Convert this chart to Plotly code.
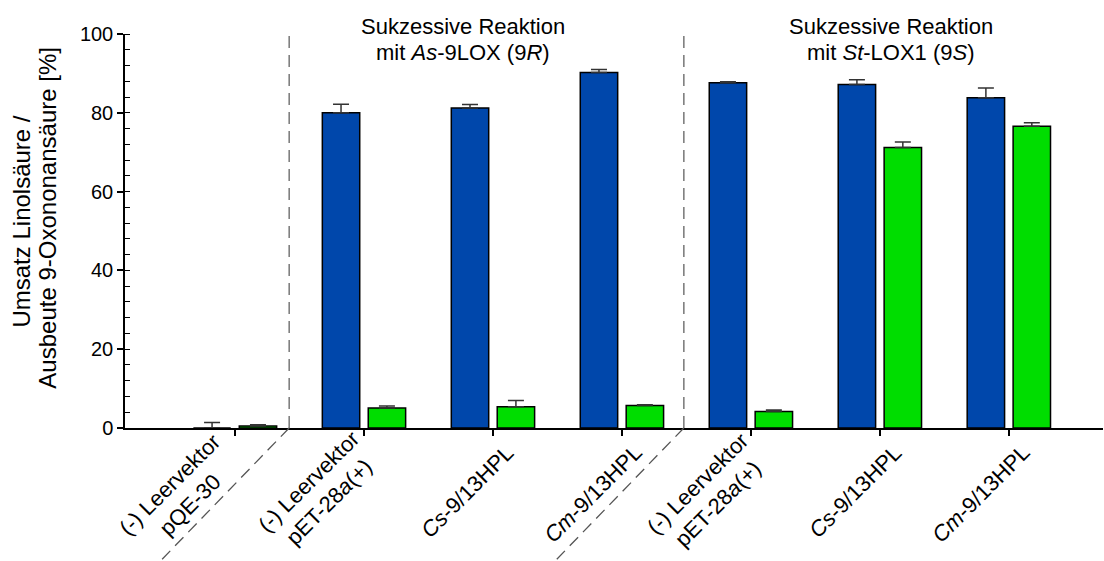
import plotly.graph_objects as go

categories = [
    "(-) Leervektor<br>pQE-30",
    "(-) Leervektor<br>pET-28<i>a</i>(+)",
    "<i>Cs</i>-9/13HPL",
    "<i>Cm</i>-9/13HPL",
    "(-) Leervektor<br>pET-28<i>a</i>(+)",
    "<i>Cs</i>-9/13HPL",
    "<i>Cm</i>-9/13HPL",
]
umsatz = [0.0, 80.0, 81.2, 90.2, 87.6, 87.2, 83.8]
umsatz_err = [1.4, 2.2, 0.9, 0.8, 0.3, 1.2, 2.5]
ausbeute = [0.5, 5.1, 5.4, 5.7, 4.2, 71.2, 76.6]
ausbeute_err = [0.3, 0.5, 1.6, 0.2, 0.4, 1.4, 0.9]
y_ticks = [0, 20, 40, 60, 80, 100]

# pixel offsets of each rotated category label's centre from its tick (styling)
label_dx = [-55, -45, -26, -29, -43, -25, -28]
label_dy = [67, 64, 63, 65, 66, 63, 65]

xpos = list(range(len(categories)))
FONT = "Liberation Sans, Arial, sans-serif"

fig = go.Figure()
fig.add_trace(go.Bar(
    x=xpos, y=umsatz, offset=-0.323, width=0.29,
    marker=dict(color="#0047AB", line=dict(color="black", width=1.5)),
    error_y=dict(type="data", array=umsatz_err, arrayminus=[0] * len(umsatz),
                 symmetric=False, color="#333333", thickness=1.5, width=8),
    name="Umsatz Linolsäure",
))
fig.add_trace(go.Bar(
    x=xpos, y=ausbeute, offset=0.033, width=0.29,
    marker=dict(color="#00DD00", line=dict(color="black", width=1.5)),
    error_y=dict(type="data", array=ausbeute_err, arrayminus=[0] * len(ausbeute),
                 symmetric=False, color="#333333", thickness=1.5, width=8),
    name="Ausbeute 9-Oxononansäure",
))

# separators
sep = [0.42, 3.48]
for s in sep:
    fig.add_shape(type="line", xref="x", yref="y", x0=s, x1=s, y0=0, y1=100,
                  line=dict(color="#777777", width=1.5, dash="12px,7px"))
    fig.add_shape(type="line", xref="x", yref="paper", x0=s, x1=s - 0.985, y0=0, y1=-0.333,
                  line=dict(color="#555555", width=1.3, dash="12px,7px"))

# category labels (rotated, centre-aligned lines)
for i, lab in enumerate(categories):
    fig.add_annotation(x=xpos[i], xref="x", y=0, yref="y", text=lab, textangle=-45,
                       xanchor="center", yanchor="middle", align="center",
                       xshift=label_dx[i], yshift=-label_dy[i], showarrow=False,
                       font=dict(family=FONT, size=22, color="black"))

# group headers
headers = [
    (1.77, ["Sukzessive Reaktion", "mit <i>As</i>-9LOX (9<i>R</i>)"]),
    (5.09, ["Sukzessive Reaktion", "mit <i>St</i>-LOX1 (9<i>S</i>)"]),
]
for xc, lines in headers:
    for ly, t in zip([1.0178, 0.9543], lines):
        fig.add_annotation(x=xc, xref="x", y=ly, yref="paper", xanchor="center",
                           yanchor="middle", text=t, showarrow=False,
                           font=dict(family=FONT, size=22, color="black"))

# y axis title (two lines)
for lx, ly, t in [(-0.1053, 0.524, "Umsatz Linolsäure /"),
                  (-0.0787, 0.534, "Ausbeute 9-Oxononansäure [%]")]:
    fig.add_annotation(x=lx, xref="paper", y=ly, yref="paper", text=t, textangle=-90,
                       xanchor="center", yanchor="middle", showarrow=False,
                       font=dict(family=FONT, size=24, color="black"))

fig.update_layout(
    width=1104, height=561,
    margin=dict(l=125, r=1, t=34, b=133),
    plot_bgcolor="white", paper_bgcolor="white",
    showlegend=False,
    font=dict(family=FONT, size=20, color="black"),
    xaxis=dict(range=[-0.853, 6.73], tickmode="array", tickvals=xpos, showticklabels=False,
               ticks="outside", ticklen=6, tickwidth=1.5, tickcolor="black",
               showline=True, linecolor="black", linewidth=1.5, showgrid=False, zeroline=False),
    yaxis=dict(range=[0, 100], tickmode="array", tickvals=y_ticks,
               ticks="outside", ticklen=6, tickwidth=1.5, tickcolor="black",
               minor=dict(ticks="inside", dtick=4, ticklen=5, tickwidth=1, tickcolor="black", showgrid=False),
               showline=True, linecolor="black", linewidth=1.5, showgrid=False, zeroline=False,
               tickfont=dict(family=FONT, size=20, color="black")),
)

fig.write_html("out.html", post_script="document.body.style.margin='0';",
               config={"displayModeBar": False})
